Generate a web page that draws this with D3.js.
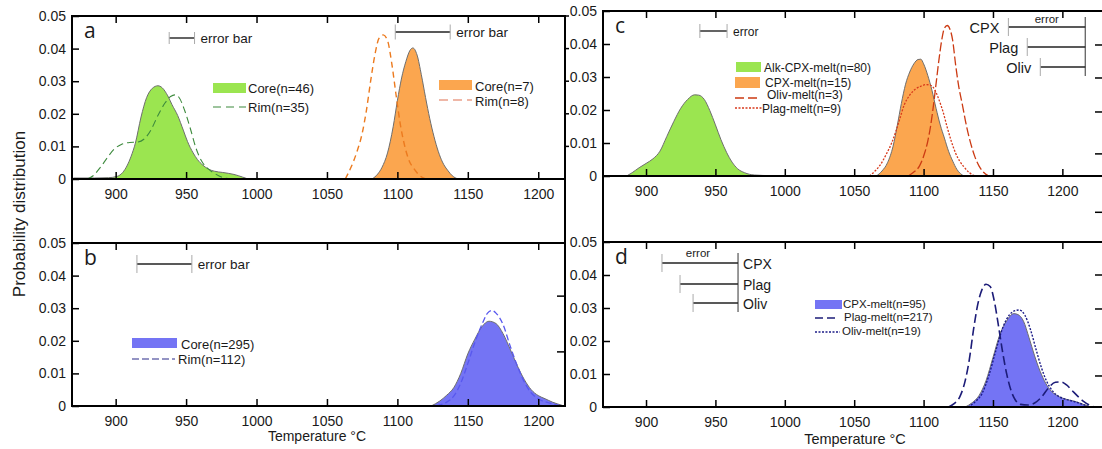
<!DOCTYPE html>
<html><head><meta charset="utf-8">
<script src="https://cdn.jsdelivr.net/npm/d3@7"></script>
<style>
body{margin:0;background:#fff}
svg{display:block}
text{font-family:"Liberation Sans",Arial,sans-serif;fill:#1a1a1a}
</style>
</head><body><svg id="chart" width="1102" height="449"></svg>
<script>
// ---------- tick labels ----------
const xTicks = [900, 950, 1000, 1050, 1100, 1150, 1200];
const yTicks = [0, 0.01, 0.02, 0.03, 0.04, 0.05];
const panelLetters = ["a", "b", "c", "d"];

// ---------- panel a : [temperature, density] ----------
const aCore46 = [[870,0.0003],[885,0.0003],[895,0.0004],[901,0.0008],[905,0.002],[908,0.004],[911,0.007],[914,0.011],[918,0.019],[922,0.025],[926,0.0278],[930,0.0286],[933,0.028],[937,0.0255],[940,0.0228],[944,0.0195],[948,0.015],[951,0.0115],[955,0.008],[958,0.006],[962,0.0042],[966,0.003],[970,0.0024],[976,0.002],[984,0.0014],[990,0.0006],[994,0]];
const aRim35 = [[880,0],[884,0.001],[889,0.0035],[894,0.0065],[899,0.0092],[904,0.0106],[910,0.0112],[915,0.0113],[920,0.0122],[925,0.015],[930,0.0195],[935,0.0233],[939,0.0253],[942,0.0258],[945,0.025],[949,0.021],[953,0.0155],[957,0.0095],[961,0.0055],[966,0.003],[971,0.0015],[977,0.0003],[982,0]];
const aCore7 = [[1082,0],[1086,0.0015],[1089,0.0035],[1093,0.008],[1097,0.016],[1100,0.024],[1103,0.031],[1106,0.036],[1109,0.0395],[1111,0.0402],[1114,0.038],[1117,0.032],[1120,0.025],[1123,0.0185],[1126,0.013],[1129,0.0085],[1132,0.0052],[1136,0.0025],[1139,0.001],[1143,0]];
const aRim8 = [[1063,0],[1067,0.0035],[1071,0.008],[1075,0.014],[1078,0.021],[1081,0.030],[1084,0.038],[1087,0.0432],[1090,0.0442],[1093,0.0425],[1096,0.0355],[1099,0.026],[1102,0.017],[1105,0.0105],[1108,0.006],[1112,0.003],[1116,0.001],[1120,0]];

// ---------- panel b ----------
const bCore295 = [[1124,0],[1130,0.0015],[1135,0.0033],[1140,0.0056],[1145,0.010],[1150,0.016],[1155,0.0205],[1160,0.0243],[1165,0.026],[1170,0.0253],[1175,0.0222],[1180,0.0175],[1185,0.0125],[1190,0.0082],[1195,0.005],[1200,0.0032],[1205,0.0022],[1210,0.0012],[1217,0.0002]];
const bRim112 = [[1128,0],[1135,0.0012],[1140,0.003],[1145,0.007],[1150,0.013],[1155,0.0195],[1160,0.025],[1164,0.0285],[1167,0.0293],[1170,0.0285],[1175,0.025],[1180,0.0185],[1185,0.0125],[1190,0.0075],[1195,0.004],[1200,0.0022],[1207,0.001],[1215,0.0002]];

// ---------- panel c ----------
const cAlkCpx80 = [[886,0],[890,0.001],[895,0.0025],[900,0.0038],[905,0.0052],[910,0.0075],[915,0.012],[920,0.0165],[925,0.0205],[930,0.0232],[935,0.0246],[938,0.0245],[942,0.0232],[946,0.0198],[950,0.0155],[954,0.011],[958,0.0072],[962,0.0042],[966,0.0022],[971,0.001],[978,0.0003],[990,0.0001],[1000,0]];
const cCpx15 = [[1066,0],[1070,0.0015],[1074,0.004],[1078,0.009],[1081,0.0152],[1084,0.022],[1087,0.0278],[1090,0.0315],[1093,0.034],[1096,0.0353],[1098,0.0354],[1100,0.034],[1103,0.0305],[1106,0.026],[1109,0.0205],[1112,0.0155],[1115,0.0115],[1118,0.0075],[1121,0.0045],[1124,0.002],[1129,0]];
const cOliv3 = [[1089,0],[1093,0.0012],[1097,0.003],[1100,0.006],[1103,0.0105],[1105,0.015],[1107,0.021],[1109,0.028],[1111,0.035],[1113,0.041],[1115,0.0448],[1117,0.0456],[1119,0.0445],[1121,0.041],[1123,0.034],[1125,0.028],[1128,0.0215],[1131,0.015],[1134,0.0098],[1137,0.0058],[1140,0.003],[1143,0.0012],[1147,0]];
const cPlag9 = [[1061,0],[1065,0.0015],[1069,0.0035],[1073,0.0065],[1077,0.01],[1080,0.0135],[1083,0.0175],[1086,0.0215],[1090,0.0245],[1094,0.0263],[1098,0.0272],[1102,0.0277],[1105,0.0275],[1108,0.0262],[1111,0.0232],[1114,0.0195],[1117,0.0148],[1120,0.0105],[1123,0.007],[1126,0.0045],[1129,0.0028],[1133,0.001],[1137,0]];

// ---------- panel d ----------
const dCpx95 = [[1130,0],[1135,0.0013],[1140,0.0035],[1145,0.008],[1150,0.015],[1155,0.022],[1160,0.0262],[1165,0.0283],[1168,0.028],[1172,0.026],[1176,0.021],[1180,0.0155],[1184,0.0108],[1188,0.0072],[1192,0.0048],[1196,0.0035],[1200,0.0027],[1205,0.0021],[1210,0.0016],[1215,0.0008],[1220,0]];
const dPlag217 = [[1118,0],[1122,0.001],[1126,0.003],[1130,0.008],[1133,0.0145],[1136,0.0235],[1139,0.031],[1142,0.0355],[1145,0.0372],[1148,0.0365],[1151,0.032],[1154,0.0245],[1157,0.0165],[1160,0.0098],[1163,0.005],[1166,0.0022],[1170,0.0008],[1175,0.0006],[1180,0.0012],[1185,0.003],[1190,0.0058],[1195,0.0075],[1199,0.0076],[1203,0.0067],[1207,0.005],[1211,0.0033],[1215,0.0018],[1219,0.0007],[1223,0]];
const dOliv19 = [[1132,0],[1137,0.0015],[1142,0.004],[1147,0.0095],[1152,0.017],[1157,0.024],[1162,0.028],[1166,0.0292],[1169,0.0294],[1173,0.0278],[1177,0.0235],[1181,0.0175],[1185,0.0118],[1189,0.0075],[1193,0.0048],[1197,0.0033],[1202,0.0024],[1208,0.0017],[1214,0.0009],[1220,0]];

// legend labels
const aLegend1 = ["Core(n=46)", "Rim(n=35)"];
const aLegend2 = ["Core(n=7)", "Rim(n=8)"];
const bLegend = ["Core(n=295)", "Rim(n=112)"];
const cLegend = ["Alk-CPX-melt(n=80)", "CPX-melt(n=15)", "Oliv-melt(n=3)", "Plag-melt(n=9)"];
const dLegend = ["CPX-melt(n=95)", "Plag-melt(n=217)", "Oliv-melt(n=19)"];
const errMinerals = ["CPX", "Plag", "Oliv"];
// error bars: [centre °C, half-width °C]
const errA = [[947, 9], [1118, 19.5]];
const errB = [934.6, 19.5];
const errC = [948.6, 9.8];
const errCMinerals = [27.7, 20.9, 16.2]; // CPX, Plag, Oliv half-widths (panel c)
const errDMinerals = [27.4, 20.9, 16.2]; // CPX, Plag, Oliv half-widths (panel d)
// stray ticks along the right borders (density units)
const aRightTicks = [0.01, 0.02, 0.03, 0.04, 0.05];
const bRightTicks = [0.0166, 0.0337];
const cRightTicks = [-0.011, 0.0067, 0.0194, 0.0297, 0.0397];
const dRightTicks = [0.0094, 0.0194, 0.0297, 0.04];

// ---------- colours ----------
const GREEN = "#9be550", ORANGE = "#fba64f", BLUE = "#7474f4";

const svg = d3.select("#chart");

// scales
const xL = d3.scaleLinear().domain([869, 1219]).range([72, 565]);
const xR = d3.scaleLinear().domain([869, 1230]).range([603, 1104]);
const yA = d3.scaleLinear().domain([0, 0.05]).range([179, 16]);
const yB = d3.scaleLinear().domain([0, 0.05]).range([406, 243]);
const yC = d3.scaleLinear().domain([0, 0.05]).range([176, 11]);
const yD = d3.scaleLinear().domain([0, 0.05]).range([407, 242]);

const curve = d3.curveMonotoneX;
function fillDist(x, y, data, color) {
  const area = d3.area().x(d => x(d[0])).y0(y(0)).y1(d => y(d[1])).curve(curve);
  const line = d3.line().x(d => x(d[0])).y(d => y(d[1])).curve(curve);
  svg.append("path").attr("d", area(data)).attr("fill", color);
  svg.append("path").attr("d", line(data)).attr("fill", "none").attr("stroke", "#6e6e6e").attr("stroke-width", 1);
}
function lineDist(x, y, data, color, dash, w) {
  const line = d3.line().x(d => x(d[0])).y(d => y(d[1])).curve(curve);
  svg.append("path").attr("d", line(data)).attr("fill", "none").attr("stroke", color)
    .attr("stroke-width", w || 1.3).attr("stroke-dasharray", dash);
}

// ---------- curves ----------
fillDist(xL, yA, aCore46, GREEN);
lineDist(xL, yA, aRim35, "#3d8a3d", "7,4", 1.1);
fillDist(xL, yA, aCore7, ORANGE);
lineDist(xL, yA, aRim8, "#ec7a1e", "6,4", 1.4);

fillDist(xL, yB, bCore295, BLUE);
lineDist(xL, yB, bRim112, "#5858ee", "6,3", 1.3);

fillDist(xR, yC, cAlkCpx80, GREEN);
fillDist(xR, yC, cCpx15, ORANGE);
lineDist(xR, yC, cOliv3, "#cc3a12", "9,3", 1.3);
lineDist(xR, yC, cPlag9, "#d83a1c", "2,1.5", 1.3);

fillDist(xR, yD, dCpx95, BLUE);
lineDist(xR, yD, dOliv19, "#1c1c88", "2,1.5", 1.4);
lineDist(xR, yD, dPlag217, "#1c1c78", "9,4", 1.6);

// ---------- axes ----------
const fmt = d => d === 0 ? "0" : d3.format(".2f")(d);
function styleAxis(g, size) {
  g.select(".domain").remove();
  g.selectAll(".tick line").attr("stroke", "#000").attr("stroke-width", 1.5);
  g.selectAll(".tick text").style("font-size", (size || 14) + "px").attr("fill", "#222");
}
function panelAxes(x, y, xLeft, topY, baseY) {
  svg.append("g").attr("transform", `translate(${xLeft},0)`)
    .call(d3.axisLeft(y).tickValues(yTicks).tickSizeInner(-7).tickSizeOuter(0).tickPadding(6).tickFormat(fmt))
    .call(g => styleAxis(g));
  svg.append("g").attr("transform", `translate(0,${topY})`)
    .call(d3.axisTop(x).tickValues(xTicks).tickSize(-7).tickFormat(""))
    .call(g => styleAxis(g));
  svg.append("g").attr("transform", `translate(0,${baseY})`)
    .call(d3.axisBottom(x).tickValues(xTicks).tickSizeInner(-7).tickSizeOuter(0).tickPadding(10).tickFormat(d3.format("d")))
    .call(g => styleAxis(g));
}
panelAxes(xL, yA, 72, 16, 179);
panelAxes(xL, yB, 72, 243, 406);
panelAxes(xR, yC, 603, 11, 176);
panelAxes(xR, yD, 603, 242, 407);

// right side stray ticks
function rightTicks(xPos, y, vals, len) {
  svg.append("g").selectAll("line").data(vals).join("line")
    .attr("x1", xPos).attr("x2", xPos + len).attr("y1", d => y(d)).attr("y2", d => y(d))
    .attr("stroke", "#000").attr("stroke-width", 1.5);
}
rightTicks(565, yA, aRightTicks, 4);
rightTicks(565, yB, bRightTicks, -8);
rightTicks(1104, yC, cRightTicks, -9);
rightTicks(1104, yD, dRightTicks, -9);

// frames
const frame = svg.append("g").attr("stroke", "#000").attr("stroke-width", 2).attr("fill", "none");
function hline(x1, x2, y) { frame.append("line").attr("x1", x1).attr("x2", x2).attr("y1", y).attr("y2", y); }
function vline(x, y1, y2) { frame.append("line").attr("x1", x).attr("x2", x).attr("y1", y1).attr("y2", y2); }
vline(xL.range()[0], yA.range()[1] - 1, yB.range()[0] + 1);
vline(xL.range()[1], yA.range()[1] - 1, yB.range()[0] + 1);
[yA(0.05), yA(0), yB(0.05), yB(0)].forEach(v => hline(xL.range()[0], xL.range()[1], v));
vline(xR.range()[0], yC.range()[1] - 1, yD.range()[0] + 1);
vline(xR.range()[1], yC.range()[1] - 1, yD.range()[0] + 1);
[yC(0.05), yC(0), yD(0.05), yD(0)].forEach(v => hline(xR.range()[0], xR.range()[1], v));

// ---------- panel letters ----------
const letterPos = [[xL, yA], [xL, yB], [xR, yC], [xR, yD]];
panelLetters.forEach((t, i) => {
  const [x, y] = letterPos[i];
  svg.append("text").attr("x", x.range()[0] + 12).attr("y", y(0.05) + 22)
    .style("font-family", "'Open Sans', sans-serif").style("font-size", "21px").text(t);
});

// ---------- error bars ----------
function errBar(x, xc, yPix, half, capH, label, labelSize) {
  const g = svg.append("g");
  g.append("line").attr("x1", x(xc - half)).attr("x2", x(xc + half)).attr("y1", yPix).attr("y2", yPix)
    .attr("stroke", "#222").attr("stroke-width", 1.4);
  [xc - half, xc + half].forEach(v => g.append("line").attr("x1", x(v)).attr("x2", x(v))
    .attr("y1", yPix - capH / 2).attr("y2", yPix + capH / 2).attr("stroke", "#aaa").attr("stroke-width", 1));
  if (label) g.append("text").attr("x", x(xc + half) + 6).attr("y", yPix + 4.5)
    .style("font-size", labelSize + "px").text(label);
}
errBar(xL, errA[0][0], 38, errA[0][1], 12, "error bar", 13.5);
errBar(xL, errA[1][0], 32, errA[1][1], 15, "error bar", 13.5);
errBar(xL, errB[0], 264, errB[1], 18, "error bar", 13.5);
errBar(xR, errC[0], 31, errC[1], 14, "error", 12);

// mineral error bars (right-aligned)
function mineralErrs(x, rightT, yTop, halves, rowYs, labelSize, labelGap, errorLabelY, labelAnchorEnd) {
  const g = svg.append("g");
  const xr = x(rightT);
  g.append("line").attr("x1", xr).attr("x2", xr).attr("y1", yTop).attr("y2", rowYs[2] + 9)
    .attr("stroke", "#555").attr("stroke-width", 1.2);
  halves.forEach((h, i) => {
    const xl = x(rightT - 2 * h);
    g.append("line").attr("x1", xl).attr("x2", xr).attr("y1", rowYs[i]).attr("y2", rowYs[i])
      .attr("stroke", "#222").attr("stroke-width", 1.4);
    g.append("line").attr("x1", xl).attr("x2", xl).attr("y1", rowYs[i] - 9).attr("y2", rowYs[i] + 9)
      .attr("stroke", "#aaa").attr("stroke-width", 1);
    if (labelAnchorEnd) {
      g.append("text").attr("x", xl - labelGap).attr("y", rowYs[i] + 6).attr("text-anchor", "end")
        .style("font-size", labelSize + "px").text(errMinerals[i]);
    } else {
      g.append("text").attr("x", xr + labelGap).attr("y", rowYs[i] + 6)
        .style("font-size", labelSize + "px").text(errMinerals[i]);
    }
  });
  g.append("text").attr("x", (x(rightT - 2 * halves[0]) + xr) / 2 - (labelAnchorEnd ? 0 : 2))
    .attr("y", errorLabelY).attr("text-anchor", "middle").style("font-size", "11.5px").text("error");
}
mineralErrs(xR, 1216.5, 17, errCMinerals, [27, 47, 67], 14.5, 9, 23, true);
mineralErrs(xR, 966.3, 253, errDMinerals, [263, 284, 303], 14, 5, 257, false);

// ---------- legends ----------
function legendRect(x1, x2, yTop, h, color, label, tx, ty, size) {
  svg.append("rect").attr("x", x1).attr("y", yTop).attr("width", x2 - x1).attr("height", h).attr("fill", color);
  svg.append("text").attr("x", tx).attr("y", ty).style("font-size", size + "px").text(label);
}
function legendLine(x1, x2, yy, color, dash, w, label, tx, ty, size) {
  svg.append("line").attr("x1", x1).attr("x2", x2).attr("y1", yy).attr("y2", yy)
    .attr("stroke", color).attr("stroke-width", w).attr("stroke-dasharray", dash);
  svg.append("text").attr("x", tx).attr("y", ty).style("font-size", size + "px").text(label);
}
legendRect(213, 246, 83, 10, GREEN, aLegend1[0], 248, 93, 13);
legendLine(213, 246, 107, "#3d8a3d", "8,5", 1.1, aLegend1[1], 248, 111.5, 13);
legendRect(439, 472, 80, 10, ORANGE, aLegend2[0], 475, 91, 13);
legendLine(439, 472, 100, "#eaa08a", "9,5", 1.4, aLegend2[1], 475, 106, 13);

legendRect(132, 177, 338, 10, BLUE, bLegend[0], 181, 349, 13);
legendLine(132, 175, 359, "#2a2a8a", "7,3", 1.2, bLegend[1], 178, 363.5, 13);

legendRect(736, 761, 62, 10, GREEN, cLegend[0], 764, 71.5, 12);
legendRect(735, 760, 77, 11, ORANGE, cLegend[1], 765, 87, 12);
legendLine(735, 758, 98, "#cc3a12", "9,4", 1.5, cLegend[2], 767, 99, 12);
legendLine(735, 762, 108, "#d83a1c", "2,1.5", 1.3, cLegend[3], 762, 112.5, 12);

legendRect(815, 842, 300, 9, BLUE, dLegend[0], 843, 307.5, 11.5);
legendLine(815, 838, 318, "#1c1c78", "8,4", 1.6, dLegend[1], 844, 320.5, 11.5);
legendLine(815, 840, 332, "#1c1c88", "2,1.5", 1.3, dLegend[2], 842, 334.5, 11.5);

// ---------- axis titles ----------
svg.append("text").attr("x", 317).attr("y", 441).attr("text-anchor", "middle").style("font-size", "14px").text("Temperature °C");
svg.append("text").attr("x", 855).attr("y", 444).attr("text-anchor", "middle").style("font-size", "14.5px").text("Temperature °C");
svg.append("text").attr("transform", "translate(25,214) rotate(-90)").attr("text-anchor", "middle")
  .style("font-size", "17px").text("Probability distribution");
</script>
</body></html>
